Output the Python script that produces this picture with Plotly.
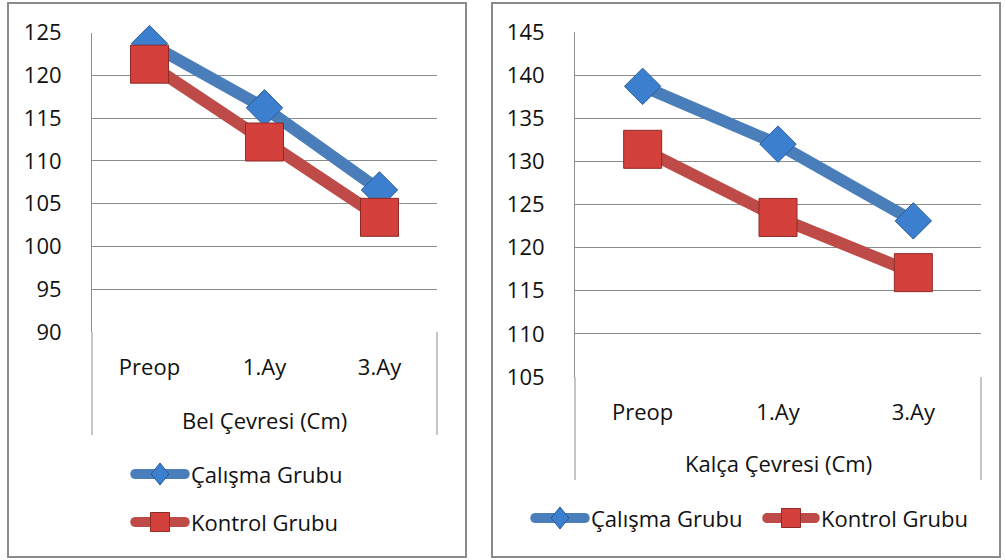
import plotly.graph_objects as go

W, H = 1005, 560

# Measurement points and group values (cm)
categories = ["Preop", "1.Ay", "3.Ay"]
bel_calisma = [123.7, 116.2, 106.6]
bel_kontrol = [121.3, 112.2, 103.4]
kalca_calisma = [138.7, 132.0, 123.1]
kalca_kontrol = [131.4, 123.5, 117.1]

bel_ticks = list(range(90, 126, 5))
kalca_ticks = list(range(105, 146, 5))

series_names = ["Çalışma Grubu", "Kontrol Grubu"]
axis_titles = ["Bel Çevresi (Cm)", "Kalça Çevresi (Cm)"]

FONT = "Open Sans"
FS = 22
TXT = "#111111"
GRID = "#8c8c8c"
BLUE_LINE = "#4a7ebb"
BLUE_MK = "#3d7fcf"
BLUE_EDGE = "#2a5c9a"
RED_LINE = "#be4b48"
RED_MK = "#d4403b"
RED_EDGE = "#8f2b27"


def px(x):
    return x / W


def py(y):
    return 1 - y / H


fig = go.Figure()


def add_pair(xa, ya, calisma, kontrol):
    fig.add_trace(go.Scatter(
        x=categories, y=calisma, xaxis=xa, yaxis=ya, name=series_names[0],
        mode="lines+markers", showlegend=False, cliponaxis=False,
        line=dict(color=BLUE_LINE, width=12),
        marker=dict(symbol="diamond", size=28, color=BLUE_MK,
                    line=dict(color=BLUE_EDGE, width=1)),
    ))
    fig.add_trace(go.Scatter(
        x=categories, y=kontrol, xaxis=xa, yaxis=ya, name=series_names[1],
        mode="lines+markers", showlegend=False, cliponaxis=False,
        line=dict(color=RED_LINE, width=12),
        marker=dict(symbol="square", size=38, color=RED_MK,
                    line=dict(color=RED_EDGE, width=1)),
    ))


add_pair("x", "y", bel_calisma, bel_kontrol)
add_pair("x2", "y2", kalca_calisma, kalca_kontrol)

xcommon = dict(type="category", range=[-0.5, 2.5], showgrid=False, zeroline=False,
               showline=False, ticks="", ticklabelstandoff=20, automargin=False,
               tickfont=dict(family=FONT, size=FS, color=TXT), fixedrange=True)
ycommon = dict(showgrid=True, gridcolor=GRID, gridwidth=1, zeroline=False,
               showline=True, linecolor=GRID, linewidth=1, ticks="", automargin=False,
               ticklabelstandoff=25, tickfont=dict(family=FONT, size=FS, color=TXT),
               fixedrange=True)

# panel geometry in pixels: plot left, right, top, bottom, box bottom
L1, R1, T1, B1, BB1 = 92, 437, 32.5, 332, 435
L2, R2, T2, B2, BB2 = 575, 981, 32, 377, 480

fig.update_layout(
    width=W, height=H, autosize=False,
    margin=dict(l=0, r=0, t=0, b=0, pad=0, autoexpand=False),
    showlegend=False,
    paper_bgcolor="white", plot_bgcolor="white",
    font=dict(family=FONT, size=FS, color=TXT),
    xaxis=dict(domain=[px(L1), px(R1)], anchor="y", **xcommon),
    yaxis=dict(domain=[py(B1), py(T1)], anchor="x", range=[90, 125],
               tickvals=bel_ticks, **ycommon),
    xaxis2=dict(domain=[px(L2), px(R2)], anchor="y2", **xcommon),
    yaxis2=dict(domain=[py(B2), py(T2)], anchor="x2", range=[105, 145],
                tickvals=kalca_ticks, **ycommon),
)

shapes = []
annotations = []

# outer chart frames
for x0, x1 in [(8, 466), (492, 1000)]:
    shapes.append(dict(type="rect", xref="paper", yref="paper",
                       x0=px(x0), x1=px(x1), y0=py(557), y1=py(3),
                       line=dict(color="#8a8a8a", width=2), layer="below"))

# plot-area sides extending around the category labels
for xl, xr, yb, ybb in [(L1, R1, B1, BB1), (L2, R2, B2, BB2)]:
    for xx in (xl, xr):
        shapes.append(dict(type="line", xref="paper", yref="paper",
                           x0=px(xx), x1=px(xx), y0=py(yb), y1=py(ybb),
                           line=dict(color=GRID, width=1), layer="below"))

# axis titles
annotations.append(dict(text=axis_titles[0], xref="paper", yref="paper",
                        x=px((L1 + R1) / 2), y=py(420), showarrow=False,
                        xanchor="center", yanchor="middle",
                        font=dict(family=FONT, size=FS, color=TXT)))
annotations.append(dict(text=axis_titles[1], xref="paper", yref="paper",
                        x=px((L2 + R2) / 2), y=py(463), showarrow=False,
                        xanchor="center", yanchor="middle",
                        font=dict(family=FONT, size=FS, color=TXT)))


def legend_line(x0, x1, y, color):
    r = 5
    path = (f"M{px(x0 + r)},{py(y - r)} L{px(x1 - r)},{py(y - r)} "
            f"C{px(x1 + 1.3)},{py(y - r)} {px(x1 + 1.3)},{py(y + r)} {px(x1 - r)},{py(y + r)} "
            f"L{px(x0 + r)},{py(y + r)} "
            f"C{px(x0 - 1.3)},{py(y + r)} {px(x0 - 1.3)},{py(y - r)} {px(x0 + r)},{py(y - r)} Z")
    shapes.append(dict(type="path", xref="paper", yref="paper", path=path,
                       fillcolor=color, line=dict(width=0)))


def legend_diamond(cx, cy):
    hw, hh = 9, 11
    path = (f"M{px(cx)},{py(cy - hh)} L{px(cx + hw)},{py(cy)} "
            f"L{px(cx)},{py(cy + hh)} L{px(cx - hw)},{py(cy)} Z")
    shapes.append(dict(type="path", xref="paper", yref="paper", path=path,
                       fillcolor=BLUE_MK, line=dict(color=BLUE_EDGE, width=1)))


def legend_square(cx, cy):
    shapes.append(dict(type="rect", xref="paper", yref="paper",
                       x0=px(cx - 9.5), x1=px(cx + 9.5), y0=py(cy + 9.5), y1=py(cy - 9.5),
                       fillcolor=RED_MK, line=dict(color=RED_EDGE, width=1)))


def legend_text(x, y, text):
    annotations.append(dict(text=text, xref="paper", yref="paper", x=px(x), y=py(y),
                            showarrow=False, xanchor="left", yanchor="middle",
                            font=dict(family=FONT, size=FS, color=TXT)))


# left legend (stacked)
legend_line(130, 190, 474, BLUE_LINE)
legend_diamond(160, 474)
legend_text(189, 474, series_names[0])
legend_line(130, 190, 522, RED_LINE)
legend_square(160, 522)
legend_text(189, 522, series_names[1])

# right legend (one row)
legend_line(530, 590, 518, BLUE_LINE)
legend_diamond(560, 518)
legend_text(589, 518, series_names[0])
legend_line(762, 820, 518, RED_LINE)
legend_square(791, 518)
legend_text(819, 518, series_names[1])

fig.update_layout(shapes=shapes, annotations=annotations)

fig.write_html("out.html")
